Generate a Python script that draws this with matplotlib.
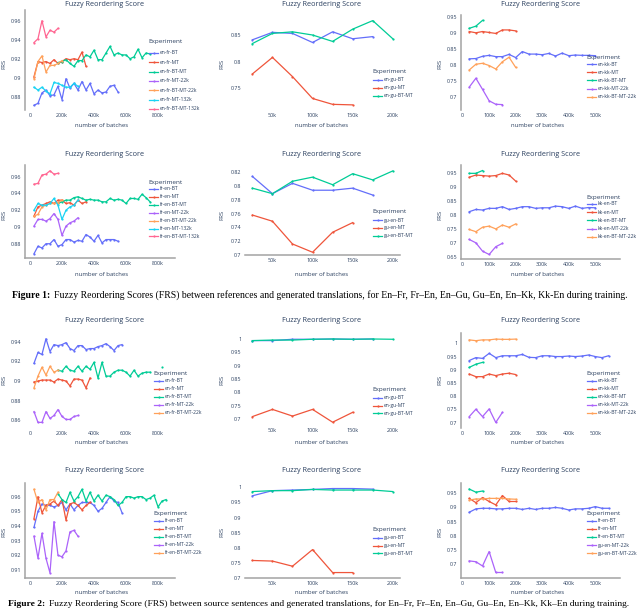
"""Fuzzy Reordering Score curves, two figures of 2x3 panels (paper page crop)."""
import numpy as np
import matplotlib
matplotlib.use("Agg")
import matplotlib.pyplot as plt
from matplotlib.lines import Line2D
from matplotlib.text import Annotation

W, H = 640, 612
TEXT = "#2a3f5f"
AXIS = "#a3a3a3"
plt.rcParams["font.family"] = ["Open Sans", "DejaVu Sans"]

COLORS = {"BT": "#636EFA", "MT": "#EF553B", "BT-MT": "#00CC96", "MT-22k": "#AB63FA",
          "BT-MT-22k": "#FFA15A", "MT-132k": "#19D3F3", "BT-MT-132k": "#FF6692"}
STEP = 25  # checkpoint interval (thousands of batches)

# ---- Figure 1: FRS against references ----
ref_enfr_bt = [0.871, 0.873, 0.884, 0.887, 0.881, 0.882, 0.891, 0.877, 0.899, 0.889, 0.894,
               0.887, 0.896, 0.887, 0.894, 0.883, 0.887, 0.884, 0.885, 0.891, 0.892, 0.885]
ref_enfr_mt = [0.901, 0.917, 0.916, 0.917, 0.915, 0.919, 0.915, 0.917, 0.920, 0.919, 0.920,
               0.919, 0.927, 0.912]
ref_enfr_btmt = [0.916, 0.917, 0.919, 0.915, 0.912, 0.918, 0.918, 0.924, 0.922, 0.929, 0.919,
                 0.919, 0.926, 0.933, 0.924, 0.926, 0.924, 0.924, 0.920, 0.922, 0.930, 0.921,
                 0.926, 0.925]
ref_enfr_mt22 = []
ref_enfr_btmt22 = [0.899, 0.917, 0.923, 0.906, 0.913, 0.913, 0.915, 0.918]
ref_enfr_mt132 = [0.890, 0.887, 0.890, 0.886, 0.883, 0.895, 0.894, 0.892, 0.890, 0.890, 0.894, 0.891]
ref_enfr_btmt132 = [0.937, 0.941, 0.960, 0.943, 0.950, 0.948, 0.952]

ref_engu_bt = [0.841, 0.855, 0.853, 0.836, 0.856, 0.843, 0.847]
ref_engu_mt = [0.777, 0.808, 0.772, 0.731, 0.720, 0.719]
ref_engu_btmt = [0.834, 0.853, 0.856, 0.850, 0.838, 0.861, 0.877, 0.843]

ref_enkk_bt = [0.819, 0.820, 0.827, 0.830, 0.826, 0.826, 0.833, 0.823, 0.842, 0.834, 0.834,
               0.832, 0.836, 0.828, 0.837, 0.829, 0.831, 0.830, 0.830, 0.829]
ref_enkk_mt = [0.905, 0.901, 0.905, 0.902, 0.899, 0.910, 0.910, 0.907]
ref_enkk_btmt = [0.915, 0.922, 0.940]
ref_enkk_mt22 = [0.730, 0.758, 0.723, 0.687, 0.676, 0.675]
ref_enkk_btmt22 = [0.784, 0.802, 0.805, 0.798, 0.787, 0.810, 0.824, 0.792]

ref_fren_bt = [0.868, 0.877, 0.875, 0.880, 0.880, 0.885, 0.877, 0.879, 0.885, 0.885, 0.882,
               0.884, 0.883, 0.891, 0.888, 0.883, 0.890, 0.881, 0.885, 0.885, 0.885, 0.883]
ref_fren_mt = [0.913, 0.924, 0.926, 0.928, 0.930, 0.928, 0.932, 0.932, 0.928, 0.929, 0.926,
               0.932, 0.928, 0.930]
ref_fren_btmt = [0.928, 0.930, 0.932, 0.932, 0.935, 0.936, 0.934, 0.932, 0.933, 0.932, 0.932,
                 0.930, 0.930, 0.934, 0.932, 0.933, 0.932, 0.928, 0.934, 0.934, 0.933, 0.939,
                 0.935, 0.930]
ref_fren_mt22 = [0.901, 0.909, 0.909, 0.907, 0.910, 0.916, 0.909, 0.890, 0.901, 0.905, 0.907, 0.911]
ref_fren_btmt22 = [0.913, 0.915, 0.924, 0.926, 0.928, 0.928, 0.929, 0.932]
ref_fren_mt132 = [0.920, 0.928, 0.926, 0.926, 0.928, 0.934, 0.926, 0.909, 0.920, 0.924, 0.926, 0.932]
ref_fren_btmt132 = [0.951, 0.952, 0.962, 0.963, 0.967, 0.963, 0.964]

ref_guen_bt = [0.814, 0.789, 0.804, 0.794, 0.794, 0.797, 0.787]
ref_guen_mt = [0.758, 0.749, 0.716, 0.704, 0.733, 0.747]
ref_guen_btmt = [0.797, 0.789, 0.807, 0.813, 0.802, 0.818, 0.809, 0.822]

ref_kken_bt = [0.812, 0.820, 0.818, 0.824, 0.824, 0.830, 0.820, 0.824, 0.830, 0.830, 0.824,
               0.826, 0.826, 0.832, 0.830, 0.824, 0.832, 0.824, 0.827, 0.826]
ref_kken_mt = [0.936, 0.944, 0.942, 0.940, 0.942, 0.950, 0.944, 0.922]
ref_kken_btmt = [0.950, 0.950, 0.960]
ref_kken_mt22 = [0.712, 0.700, 0.670, 0.658, 0.686, 0.698]
ref_kken_btmt22 = [0.748, 0.740, 0.756, 0.760, 0.750, 0.764, 0.756, 0.768]

# ---- Figure 2: FRS against sources ----
src_enfr_bt = [0.918, 0.929, 0.927, 0.943, 0.930, 0.937, 0.936, 0.937, 0.939, 0.933, 0.931,
               0.936, 0.936, 0.932, 0.933, 0.933, 0.935, 0.936, 0.938, 0.935, 0.931, 0.936, 0.937]
src_enfr_mt = [0.899, 0.900, 0.901, 0.901, 0.901, 0.899, 0.902, 0.901, 0.900, 0.895, 0.902,
               0.902, 0.901, 0.893, 0.903]
src_enfr_btmt = [0.911, 0.910, 0.915, 0.911, 0.910, 0.915, 0.910, 0.915, 0.912, 0.919, 0.903,
                 0.919, 0.905, 0.905, 0.909, 0.911, 0.911, 0.909, 0.905, 0.911, 0.905, 0.908,
                 0.909, 0.909, np.nan, np.nan, 0.914]
src_enfr_mt22 = [0.869, 0.858, 0.858, 0.869, 0.862, 0.865, 0.871, 0.864, 0.861, 0.861, 0.864, 0.865]
src_enfr_btmt22 = [0.893, 0.905, 0.914, 0.906, 0.915, 0.909, 0.911]

src_engu_bt = [0.994, 0.994, 0.999, 0.999, 1.000, 0.999, 1.000]
src_engu_mt = [0.709, 0.736, 0.711, 0.736, 0.688, 0.725]
src_engu_btmt = [0.994, 0.996, 0.996, 0.999, 1.000, 0.999, 1.000, 0.999]

src_enkk_bt = [0.935, 0.946, 0.943, 0.962, 0.946, 0.953, 0.953, 0.953, 0.958, 0.947, 0.946,
               0.953, 0.953, 0.950, 0.950, 0.952, 0.950, 0.952, 0.956, 0.950, 0.946, 0.953]
src_enkk_mt = [0.884, 0.874, 0.874, 0.884, 0.878, 0.884, 0.887, 0.882]
src_enkk_btmt = [0.909, 0.921, 0.928]
src_enkk_mt22 = [0.723, 0.751, 0.723, 0.752, 0.701, 0.739]
src_enkk_btmt22 = [1.013, 1.010, 1.013, 1.013, 1.016, 1.015, 1.015, 1.016]

src_fren_bt = [0.939, 0.950, 0.955, 0.954, 0.954, 0.953, 0.954, 0.956, 0.951, 0.955, 0.951,
               0.954, 0.956, 0.956, 0.956, 0.954, 0.950, 0.952, 0.956, 0.960, 0.957, 0.956, 0.949]
src_fren_mt = [0.945, 0.960, 0.949, 0.954, 0.955, 0.957, 0.954, 0.958, 0.944, 0.955, 0.956,
               0.954, 0.951, 0.954, 0.956]
src_fren_btmt = [0.962, 0.958, 0.956, 0.963, 0.957, 0.960, 0.965, 0.957, 0.963, 0.957, 0.961,
                 0.957, 0.961, 0.960, 0.958, 0.954, 0.956, 0.960, 0.960, 0.959, 0.960, 0.960,
                 0.958, 0.959, 0.961, 0.953, 0.957, 0.958]
src_fren_mt22 = [0.933, 0.918, 0.935, 0.918, 0.908, 0.943, 0.920, 0.919, 0.923, 0.936, 0.937, 0.933]
src_fren_btmt22 = [0.965, 0.956, 0.958, 0.951, 0.958, 0.958, 0.963]

src_guen_bt = [0.972, 0.989, 0.991, 0.993, 0.996, 0.996, 0.994]
src_guen_mt = [0.758, 0.756, 0.739, 0.794, 0.718, 0.718]
src_guen_btmt = [0.986, 0.989, 0.989, 0.993, 0.991, 0.991, 0.991, 0.986]

src_kken_bt = [0.883, 0.895, 0.897, 0.897, 0.895, 0.895, 0.897, 0.897, 0.893, 0.897, 0.893,
               0.897, 0.897, 0.900, 0.897, 0.891, 0.895, 0.895, 0.897, 0.903, 0.897, 0.897]
src_kken_mt = [0.932, 0.917, 0.935, 0.921, 0.909, 0.942, 0.921, 0.921]
src_kken_btmt = [0.965, 0.954, 0.958]
src_kken_mt22 = [0.711, 0.708, 0.693, 0.744, 0.670, 0.670]
src_kken_btmt22 = [0.926, 0.930, 0.930, 0.932, 0.932, 0.932, 0.930, 0.929]

# series: (legend label, colour key, first checkpoint in k, values)
SERIES = {
    "A": [("en-fr-BT", "BT", 25, ref_enfr_bt), ("en-fr-MT", "MT", 25, ref_enfr_mt),
          ("en-fr-BT-MT", "BT-MT", 175, ref_enfr_btmt), ("en-fr-MT-22k", "MT-22k", 25, ref_enfr_mt22),
          ("en-fr-BT-MT-22k", "BT-MT-22k", 25, ref_enfr_btmt22),
          ("en-fr-MT-132k", "MT-132k", 25, ref_enfr_mt132),
          ("en-fr-BT-MT-132k", "BT-MT-132k", 25, ref_enfr_btmt132)],
    "B": [("en-gu-BT", "BT", 25, ref_engu_bt), ("en-gu-MT", "MT", 25, ref_engu_mt),
          ("en-gu-BT-MT", "BT-MT", 25, ref_engu_btmt)],
    "C": [("en-kk-BT", "BT", 25, ref_enkk_bt), ("en-kk-MT", "MT", 25, ref_enkk_mt),
          ("en-kk-BT-MT", "BT-MT", 25, ref_enkk_btmt), ("en-kk-MT-22k", "MT-22k", 25, ref_enkk_mt22),
          ("en-kk-BT-MT-22k", "BT-MT-22k", 25, ref_enkk_btmt22)],
    "D": [("fr-en-BT", "BT", 25, ref_fren_bt), ("fr-en-MT", "MT", 25, ref_fren_mt),
          ("fr-en-BT-MT", "BT-MT", 175, ref_fren_btmt), ("fr-en-MT-22k", "MT-22k", 25, ref_fren_mt22),
          ("fr-en-BT-MT-22k", "BT-MT-22k", 25, ref_fren_btmt22),
          ("fr-en-MT-132k", "MT-132k", 25, ref_fren_mt132),
          ("fr-en-BT-MT-132k", "BT-MT-132k", 25, ref_fren_btmt132)],
    "E": [("gu-en-BT", "BT", 25, ref_guen_bt), ("gu-en-MT", "MT", 25, ref_guen_mt),
          ("gu-en-BT-MT", "BT-MT", 25, ref_guen_btmt)],
    "F": [("kk-en-BT", "BT", 25, ref_kken_bt), ("kk-en-MT", "MT", 25, ref_kken_mt),
          ("kk-en-BT-MT", "BT-MT", 25, ref_kken_btmt), ("kk-en-MT-22k", "MT-22k", 25, ref_kken_mt22),
          ("kk-en-BT-MT-22k", "BT-MT-22k", 25, ref_kken_btmt22)],
    "G": [("en-fr-BT", "BT", 25, src_enfr_bt), ("en-fr-MT", "MT", 25, src_enfr_mt),
          ("en-fr-BT-MT", "BT-MT", 175, src_enfr_btmt), ("en-fr-MT-22k", "MT-22k", 25, src_enfr_mt22),
          ("en-fr-BT-MT-22k", "BT-MT-22k", 25, src_enfr_btmt22)],
    "H": [("en-gu-BT", "BT", 25, src_engu_bt), ("en-gu-MT", "MT", 25, src_engu_mt),
          ("en-gu-BT-MT", "BT-MT", 25, src_engu_btmt)],
    "I": [("en-kk-BT", "BT", 25, src_enkk_bt), ("en-kk-MT", "MT", 25, src_enkk_mt),
          ("en-kk-BT-MT", "BT-MT", 25, src_enkk_btmt), ("en-kk-MT-22k", "MT-22k", 25, src_enkk_mt22),
          ("en-kk-BT-MT-22k", "BT-MT-22k", 25, src_enkk_btmt22)],
    "J": [("fr-en-BT", "BT", 25, src_fren_bt), ("fr-en-MT", "MT", 25, src_fren_mt),
          ("fr-en-BT-MT", "BT-MT", 175, src_fren_btmt), ("fr-en-MT-22k", "MT-22k", 25, src_fren_mt22),
          ("fr-en-BT-MT-22k", "BT-MT-22k", 25, src_fren_btmt22)],
    "K": [("gu-en-BT", "BT", 25, src_guen_bt), ("gu-en-MT", "MT", 25, src_guen_mt),
          ("gu-en-BT-MT", "BT-MT", 25, src_guen_btmt)],
    "L": [("fr-en-BT", "BT", 25, src_kken_bt), ("fr-en-MT", "MT", 25, src_kken_mt),
          ("fr-en-BT-MT", "BT-MT", 25, src_kken_btmt), ("gu-en-MT-22k", "MT-22k", 25, src_kken_mt22),
          ("gu-en-BT-MT-22k", "BT-MT-22k", 25, src_kken_btmt22)],
}

# ---- layout (pixel units of the 640x612 page) ----
COLS = [dict(left=25, right=175, xlim=(-31, 906), xticks=[0, 200, 400, 600, 800],
             title_x=105, xlabel_x=102, ylabel_x=4),
        dict(left=245, right=400, xlim=(15.8, 209), xticks=[50, 100, 150, 200],
             title_x=322, xlabel_x=322, ylabel_x=222),
        dict(left=461, right=620, xlim=(-6, 593), xticks=[0, 100, 200, 300, 400, 500],
             title_x=541, xlabel_x=538, ylabel_x=440)]
ROWS = [dict(title_y=4, xlabel_y=126, ylabel_y=64),
        dict(title_y=154, xlabel_y=275, ylabel_y=215),
        dict(title_y=321, xlabel_y=443, ylabel_y=380),
        dict(title_y=471, xlabel_y=593, ylabel_y=532)]

# key, row, col, top, bottom, ylim, yticks, spines, legend(x, title_y, first_y, dy)
PANELS = [
    ("A", 0, 0, 10, 110, (0.866, 0.9713), [0.88, 0.90, 0.92, 0.94, 0.96], "l", (148, 41, 53, 9.3)),
    ("B", 0, 1, 10, 110, (0.7094, 0.8969), [0.75, 0.80, 0.85], "", (372, 72, 80, 8)),
    ("C", 0, 2, 15, 110, (0.658, 0.957), [0.7, 0.75, 0.8, 0.85, 0.9, 0.95], "l", (586, 57, 64, 8.2)),
    ("D", 1, 0, 165, 258, (0.863, 0.9739), [0.88, 0.90, 0.92, 0.94, 0.96], "lb", (148, 182, 189, 7.9)),
    ("E", 1, 1, 165, 255, (0.70, 0.8306), [0.70, 0.72, 0.74, 0.76, 0.78, 0.80, 0.82], "b", (372, 212, 220, 8)),
    ("F", 1, 2, 165, 259, (0.6417, 0.98), [0.65, 0.7, 0.75, 0.8, 0.85, 0.9, 0.95], "lb", (586, 197, 204, 8.2)),
    ("G", 2, 0, 333, 428, (0.8523, 0.9488), [0.86, 0.88, 0.90, 0.92, 0.94], "", (153, 373, 381, 8)),
    ("H", 2, 1, 333, 425, (0.6775, 1.0225), [0.7, 0.75, 0.8, 0.85, 0.9, 0.95, 1.0], "", (372, 390, 398, 7.7)),
    ("I", 2, 2, 333, 428, (0.68, 1.039), [0.7, 0.75, 0.8, 0.85, 0.9, 0.95, 1.0], "l", (586, 373, 381, 8)),
    ("J", 3, 0, 483, 578, (0.9045, 0.9693), [0.91, 0.92, 0.93, 0.94, 0.95, 0.96], "lb", (153, 513, 521, 8)),
    ("K", 3, 1, 483, 578, (0.70, 1.0143), [0.7, 0.75, 0.8, 0.85, 0.9, 0.95, 1.0], "b", (372, 530, 538, 7.7)),
    ("L", 3, 2, 483, 578, (0.6505, 0.9864), [0.7, 0.75, 0.8, 0.85, 0.9, 0.95], "lb", (586, 514, 521, 8)),
]


def fx(x):
    return x / W


def fy(y):
    return 1 - y / H


def kfmt(v):
    return "0" if v == 0 else f"{v}k"


fig = plt.figure(figsize=(W / 100, H / 100), dpi=100)

for key, r, c, top, bottom, ylim, yticks, spines, leg in PANELS:
    col, row = COLS[c], ROWS[r]
    ax = fig.add_axes([fx(col["left"]), fy(bottom), (col["right"] - col["left"]) / W,
                       (bottom - top) / H])
    ax.set_facecolor("none")
    for label, ckey, start, vals in SERIES[key]:
        if len(vals) == 0:
            continue
        xs = start + STEP * np.arange(len(vals))
        ax.plot(xs, vals, color=COLORS[ckey], lw=0.9, marker="o", ms=1.6,
                markeredgewidth=0, clip_on=False)
    ax.set_xlim(*col["xlim"])
    ax.set_ylim(*ylim)
    ax.set_xticks(col["xticks"])
    ax.set_xticklabels([kfmt(v) for v in col["xticks"]])
    ax.set_yticks(yticks)
    ax.set_yticklabels([f"{v:g}" for v in yticks])
    ax.tick_params(length=0, labelsize=3.9, labelcolor=TEXT, pad=2.5)
    for side, sp in ax.spines.items():
        on = (side == "left" and "l" in spines) or (side == "bottom" and "b" in spines)
        sp.set_visible(on)
        sp.set_color(AXIS)
        sp.set_linewidth(1.1)

    fig.text(fx(col["title_x"]), fy(row["title_y"]), "Fuzzy Reordering Score",
             ha="center", va="center", fontsize=5.2, color=TEXT)
    fig.text(fx(col["xlabel_x"]), fy(row["xlabel_y"]), "number of batches",
             ha="center", va="center", fontsize=4.3, color=TEXT)
    fig.text(fx(col["ylabel_x"]), fy(row["ylabel_y"]), "FRS", rotation=90,
             ha="center", va="center", fontsize=4.3, color=TEXT)

    lx, ty, y0, dy = leg
    fig.text(fx(lx), fy(ty), "Experiment", ha="left", va="center", fontsize=4.6, color=TEXT)
    for i, (label, ckey, _, _) in enumerate(SERIES[key]):
        yy = fy(y0 + i * dy)
        fig.add_artist(Line2D([fx(lx + 1), fx(lx + 10)], [yy, yy], color=COLORS[ckey], lw=0.9))
        fig.add_artist(Line2D([fx(lx + 5.5)], [yy], color=COLORS[ckey], marker="o", ms=1.6,
                              markeredgewidth=0))
        fig.text(fx(lx + 12), yy, label, ha="left", va="center", fontsize=3.6, color=TEXT)


def caption(x, y, size, head, body):
    t = fig.text(fx(x), fy(y), head, ha="left", va="center", fontsize=size,
                 fontweight="bold", family="Liberation Serif", color="black")
    fig.add_artist(Annotation(body, xy=(1, 0.5), xycoords=t, xytext=(2.5, 0),
                              textcoords="offset points", ha="left", va="center",
                              fontsize=size, family="Liberation Serif", color="black"))


caption(12, 295, 7.05, "Figure 1:",
        "Fuzzy Reordering Scores (FRS) between references and generated translations, "
        "for En\u2013Fr, Fr\u2013En, En\u2013Gu, Gu\u2013En, En\u2013Kk, Kk-En during training.")
caption(8, 604, 6.8, "Figure 2:",
        "Fuzzy Reordering Score (FRS) between source sentences and generated translations, "
        "for En\u2013Fr, Fr\u2013En, En\u2013Gu, Gu\u2013En, En\u2013Kk, Kk\u2013En during training.")

fig.savefig("out.png", dpi=100)
